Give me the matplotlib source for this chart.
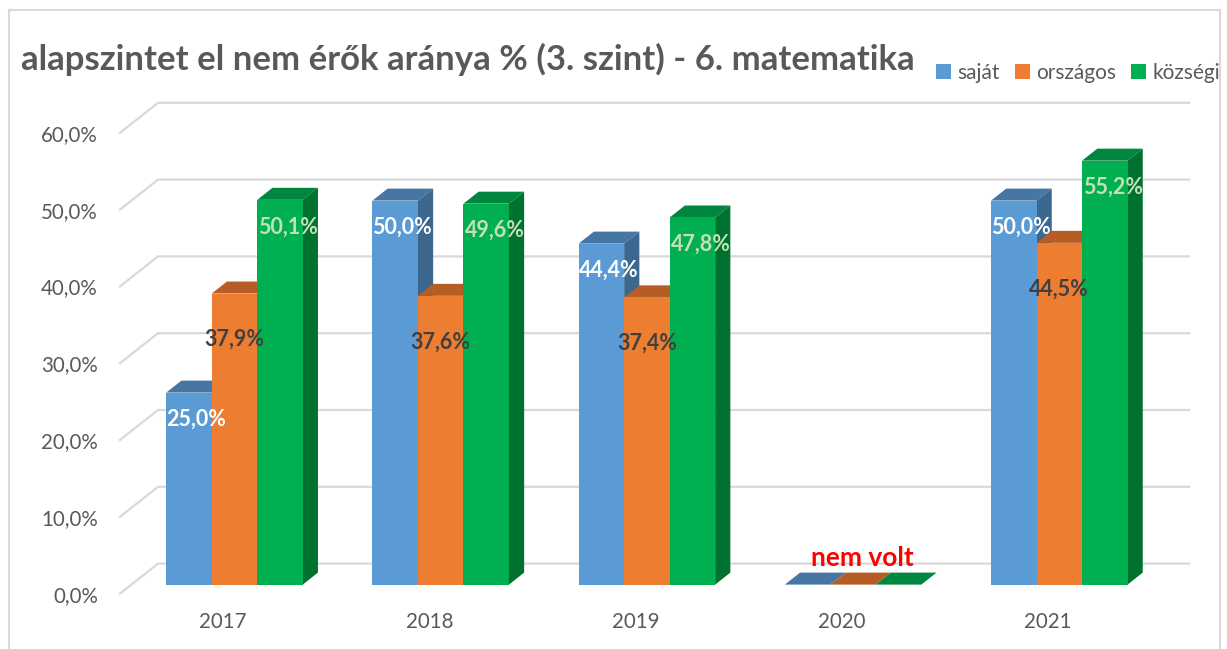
import numpy as np
import matplotlib
matplotlib.use("Agg")
import matplotlib.pyplot as plt
from matplotlib.patches import Polygon, Rectangle, Patch

plt.rcParams['font.family'] = ['Lato', 'DejaVu Sans']

# --- data ---
years = ['2017', '2018', '2019', '2020', '2021']
series = ['saját', 'országos', 'községi']
sajat = [25.0, 50.0, 44.4, 0.0, 50.0]
orszagos = [37.9, 37.6, 37.4, 0.0, 44.5]
kozsegi = [50.1, 49.6, 47.8, 0.0, 55.2]
missing = ['2020']  # "nem volt"
yticks = [0, 10, 20, 30, 40, 50, 60]

title = 'alapszintet el nem érők aránya % (3. szint) - 6. matematika'

# front / top / side colours per series
front_c = ['#5b9bd5', '#ed7d31', '#00b050']
top_c = ['#4676a4', '#b55d24', '#00863e']
side_c = ['#3c6890', '#ad5a22', '#007230']
label_c = ['#ffffff', '#404040', '#c5e0b4']
label_drop = [3.5, 6.0, 3.5]       # label sits this far below bar top
label_dx = [0.034, 0.0, 0.04]

W_PX, H_PX = 1227, 649
fig = plt.figure(figsize=(W_PX / 100, H_PX / 100), dpi=100, facecolor='white')

# front plane of the 3D box, in pixels
x_left, x_right = 120, 1151
y_zero, y_top = 593.6, 132.8
ax = fig.add_axes([x_left / W_PX, 1 - y_zero / H_PX,
                   (x_right - x_left) / W_PX, (y_zero - y_top) / H_PX])
ax.set_xlim(-0.5, len(years) - 0.5)
ax.set_ylim(0, 60)
for s in ax.spines.values():
    s.set_visible(False)
ax.set_facecolor('none')

# depth of the chart box in data units
px_x = (x_right - x_left) / len(years)
px_y = (y_zero - y_top) / 60
DX = 38 / px_x
DY = 30 / px_y
f0, f1 = 0.3, 0.7          # bars occupy this slice of the depth
bw = 45.5 / px_x
bdx, bdy = (f1 - f0) * DX, (f1 - f0) * DY
base = f0 * DY

# back wall grid lines with the floor/side perspective segment
for v in yticks:
    ax.plot([-0.5, -0.5 + DX, len(years) - 0.5 + DX], [v, v + DY, v + DY],
            color='#d9d9d9', lw=1.6, clip_on=False, zorder=1)

values = [sajat, orszagos, kozsegi]
xc = np.arange(len(years))
for k, vals in enumerate(values):
    x0 = xc + (k - 1.5) * bw + f0 * DX
    ax.bar(x0, vals, width=bw, bottom=base, align='edge', color=front_c[k],
           linewidth=0, clip_on=False, zorder=3 + 2 * k + 0.5)
    for i, v in enumerate(vals):
        top = base + v
        zo = 3 + 2 * k
        # top face
        ax.add_patch(Polygon([(x0[i], top), (x0[i] + bw, top),
                              (x0[i] + bw + bdx, top + bdy), (x0[i] + bdx, top + bdy)],
                             closed=True, facecolor=top_c[k], edgecolor='none',
                             clip_on=False, zorder=zo))
        # right side face
        ax.add_patch(Polygon([(x0[i] + bw, base), (x0[i] + bw + bdx, base + bdy),
                              (x0[i] + bw + bdx, top + bdy), (x0[i] + bw, top)],
                             closed=True, facecolor=side_c[k], edgecolor='none',
                             clip_on=False, zorder=zo))
        if years[i] in missing:
            continue
        ax.text(x0[i] + bw / 2 + label_dx[k], top - label_drop[k],
                f'{v:.1f}%'.replace('.', ','), ha='center', va='center',
                fontsize=15.5, fontweight='bold', color=label_c[k], zorder=20,
                clip_on=False)

for yr in missing:
    i = years.index(yr)
    ax.text(i + 0.1, 4.6, 'nem volt', ha='center', va='center', color='#ff0000',
            fontsize=19, fontweight='bold', zorder=20)

ax.set_xticks(xc)
ax.set_xticklabels(years)
ax.set_yticks(yticks)
ax.set_yticklabels([f'{v:.1f}%'.replace('.', ',') for v in yticks])
ax.tick_params(axis='both', length=0, labelsize=14.8, labelcolor='#595959')
ax.tick_params(axis='y', pad=16)
ax.tick_params(axis='x', pad=13)

fig.text(21 / W_PX, 1 - 59 / H_PX, title, ha='left', va='center',
         fontsize=25, fontweight='bold', color='#595959')

handles = [Patch(facecolor=c, edgecolor='none') for c in front_c]
fig.legend(handles, series, loc='center left', bbox_to_anchor=(936 / W_PX, 1 - 73 / H_PX),
           ncol=3, frameon=False, fontsize=15, labelcolor='#595959',
           handlelength=0.7, handleheight=0.7, handletextpad=0.3,
           columnspacing=0.75, borderpad=0, borderaxespad=0)

# outer chart border
fig.add_artist(Rectangle((9 / W_PX, -0.05), (1220 - 9) / W_PX, 1.05 - 10 / H_PX,
                         transform=fig.transFigure, fill=False,
                         edgecolor='#d9d9d9', lw=1.5))

fig.savefig('out.png', dpi=100, facecolor='white')
